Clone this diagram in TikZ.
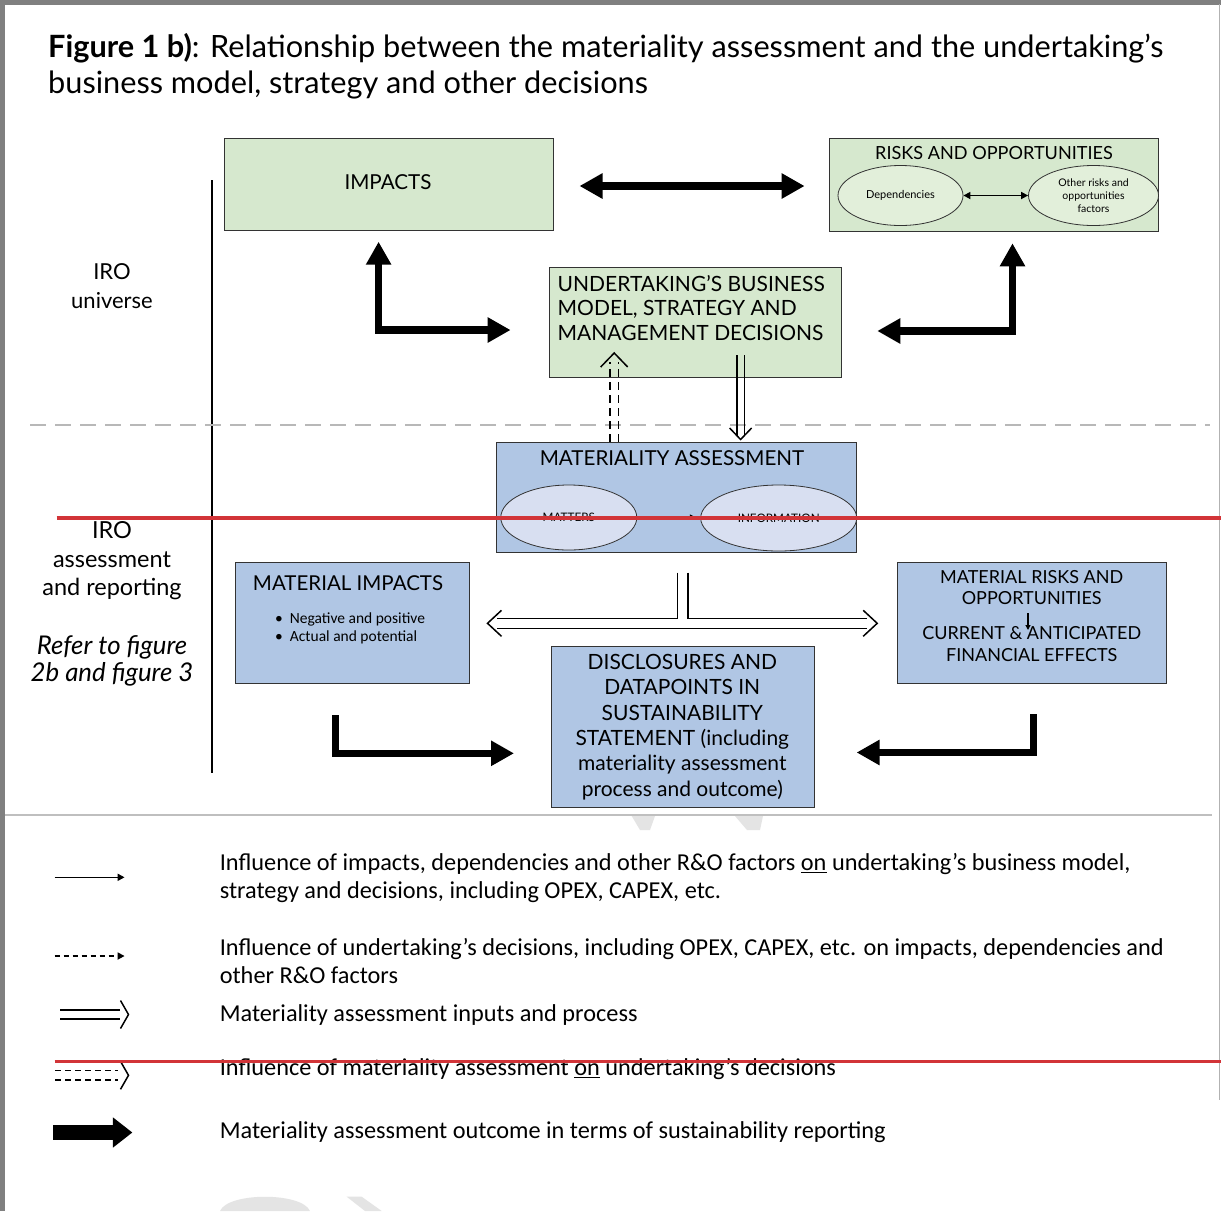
\documentclass[tikz,border=0pt]{standalone}
\usepackage{fontspec}
\setmainfont{Lato}
\newfontfamily\legfont{Carlito}
\usetikzlibrary{arrows.meta,calc,shapes.geometric}
\newcommand\fsz[2]{\fontsize{#1}{#2}\selectfont}
\definecolor{grn}{RGB}{214,232,206}
\definecolor{grnlt}{RGB}{226,239,218}
\definecolor{blu}{RGB}{176,198,228}
\definecolor{blult}{RGB}{216,223,241}
\definecolor{redl}{RGB}{210,52,56}
\definecolor{framegray}{RGB}{128,128,128}
\definecolor{wm}{RGB}{228,228,228}
\tikzset{
  bigtip/.tip={Triangle[length=23pt,width=24pt]},
  smalltip/.tip={Triangle[length=7pt,width=7pt]},
  box/.style={draw=black!80,line width=1pt,inner sep=0pt,anchor=north west},
  gbox/.style={box,fill=grn},
  bbox/.style={box,fill=blu},
  boxtxt/.style={inner sep=0pt,align=center,font=\fsz{20.6}{25}},
  blockarrow/.style={line width=7.5pt,line join=miter},
  dbl/.style={line width=1.3pt},
  dbldash/.style={line width=1.3pt,dash pattern=on 8pt off 5pt},
  chev/.style={line width=1.5pt,line join=miter},
  legtxt/.style={inner sep=0pt,anchor=west,align=left,font=\legfont\fsz{24.3}{28}},
  sidetxt/.style={inner sep=0pt,align=center,font=\fsz{23.5}{28.5}},
}
\begin{document}
\begin{tikzpicture}[x=1pt,y=-1pt]
\useasboundingbox (0,0) rectangle (1221,1211);
\fill[white] (0,0) rectangle (1221,1211);
% watermark fragments
\fill[wm] (631.7,816) -- (655,816) -- (650,830) -- (640,830) -- cycle;
\fill[wm] (735,816) -- (763,816) -- (760,830) -- (747,830) -- cycle;
\fill[wm] (220,1211) .. controls (228,1192) and (302,1192) .. (310,1211) -- cycle;
\fill[wm] (346.7,1196.7) -- (361.7,1196.7) -- (381.7,1211) -- (365,1211) -- cycle;
% frame
\fill[framegray] (0,0) rectangle (1221,4.5);
\fill[framegray] (0,0) rectangle (5,1211);
\draw[black!30,line width=1pt] (1219,4) -- (1219,1100);
\draw[black!25,line width=1.2pt] (5,815) -- (1212,815);
% title
\node[inner sep=0pt,anchor=base west,font=\fsz{30.7}{36}] (title1) at (48,57) {\textbf{Figure 1 b)}: Relationship between the materiality assessment and the undertaking’s};
\node[inner sep=0pt,anchor=base west,font=\fsz{30.7}{36}] (title2) at (48,93) {business model, strategy and other decisions};
% side labels
\draw[black,line width=2pt] (212,180) -- (212,773);
\draw[black!28,line width=1.5pt,dash pattern=on 16pt off 9pt] (30,425) -- (1210,425);
\node[sidetxt,font=\fsz{22}{29}] (iro1) at (112,286.5) {IRO\\universe};
\node[sidetxt] (iro2) at (112,561) {IRO\\assessment\\and reporting};
\node[sidetxt,font=\itshape\fsz{25.8}{27}] (refer) at (112,660.5) {Refer to figure\\2b and figure 3};
% top row
\node[gbox,minimum width=329pt,minimum height=91.7pt] (impacts) at (223.6,138.3) {};
\node[boxtxt] (impactstxt) at (388,182.5) {IMPACTS};
\node[gbox,minimum width=329pt,minimum height=92.7pt] (risks) at (829.4,138.3) {};
\node[boxtxt,font=\fsz{18.1}{20}] (riskstxt) at (994,153) {RISKS AND OPPORTUNITIES};
\node[draw=black!80,line width=0.8pt,fill=grnlt,ellipse,minimum width=125pt,minimum height=60pt,inner sep=0pt,font=\fsz{11}{13}] (dep) at (900.5,195.5) {Dependencies};
\node[draw=black!80,line width=0.8pt,fill=grnlt,ellipse,minimum width=130pt,minimum height=60pt,inner sep=0pt,align=center,font=\fsz{10.5}{13}] (oth) at (1093.5,195.5) {Other risks and\\opportunities\\factors};
\draw[line width=1.6pt,smalltip-smalltip] (dep.east) -- (oth.west);
\coordinate (ia) at (579.5,186);
\coordinate (ib) at (804.6,186);
\draw[blockarrow,bigtip-bigtip] (ia) -- (ib);
% undertaking box
\node[gbox,minimum width=292pt,minimum height=110pt] (und) at (548.8,266.7) {};
\node[inner sep=0pt,anchor=west,align=left,font=\fsz{21}{24.5}] (undtxt) at (557.5,308) {UNDERTAKING’S BUSINESS\\MODEL, STRATEGY AND\\MANAGEMENT DECISIONS};
% L arrows top
\coordinate (la1) at (378.6,241.7);
\coordinate (la2) at (378.6,330);
\coordinate (la3) at (510.6,330);
\draw[blockarrow,bigtip-bigtip] (la1) -- (la2) -- (la3);
\coordinate (ra1) at (1012.5,243.3);
\coordinate (ra2) at (1012.5,331);
\coordinate (ra3) at (877.3,331);
\draw[blockarrow,bigtip-bigtip] (ra1) -- (ra2) -- (ra3);
% materiality assessment
\node[bbox,minimum width=360pt,minimum height=110pt] (mat) at (495.7,441.7) {};
\node[boxtxt] (mattxt) at (672,458) {MATERIALITY ASSESSMENT};
\node[draw=black!80,line width=0.8pt,fill=blult,ellipse,minimum width=136pt,minimum height=65pt,inner sep=0pt,font=\fsz{11.7}{13}] (matters) at (568.8,517.5) {MATTERS};
\node[draw=black!80,line width=0.8pt,fill=blult,ellipse,minimum width=156pt,minimum height=66pt,inner sep=0pt,font=\fsz{11.7}{13}] (info) at (778.7,518) {INFORMATION};
\coordinate (mi) at (695,517);
\draw[line width=0.8pt,-{Triangle[length=5pt,width=5pt]}] (matters.east) -- (mi);
% dashed double arrow up (mat -> und)
\coordinate (du1) at (610,441.7);
\coordinate (du2) at (610,362);
\coordinate (du3) at (618.3,441.7);
\coordinate (du4) at (618.3,362);
\draw[dbldash] (du1) -- (du2);
\draw[dbldash] (du3) -- (du4);
\coordinate (dut) at (614.2,353);
\draw[chev] ($(dut)+(-13.5,14)$) -- (dut) -- ($(dut)+(13.5,14)$);
% double arrow down (und -> mat)
\coordinate (dd1) at (736.9,355);
\coordinate (dd2) at (736.9,436);
\coordinate (dd3) at (744.3,355);
\coordinate (dd4) at (744.3,436);
\draw[dbl] (dd1) -- (dd2);
\draw[dbl] (dd3) -- (dd4);
\coordinate (ddt) at (740.6,439.5);
\draw[chev] ($(ddt)+(-11,-11.5)$) -- (ddt) -- ($(ddt)+(11,-11.5)$);
% T-shaped double arrow
\coordinate (t1) at (677.4,572.7);
\coordinate (t2) at (687.9,572.7);
\coordinate (tl) at (497,618.3);
\coordinate (tr) at (867,618.3);
\coordinate (bl) at (497,628.3);
\coordinate (br) at (867,628.3);
\draw[dbl,line join=miter] (t1) |- (tl);
\draw[dbl,line join=miter] (t2) |- (tr);
\draw[dbl] (bl) -- (br);
\coordinate (tlt) at (487.5,623.3);
\coordinate (trt) at (877.2,623.3);
\draw[chev] ($(tlt)+(14,-13)$) -- (tlt) -- ($(tlt)+(14,13)$);
\draw[chev] ($(trt)+(-14,-13)$) -- (trt) -- ($(trt)+(-14,13)$);
% material impacts
\node[bbox,minimum width=233.3pt,minimum height=120.4pt] (mimp) at (235.3,562.3) {};
\node[boxtxt,font=\fsz{20.5}{25}] (mimptxt) at (348,583.5) {MATERIAL IMPACTS};
\node[inner sep=0pt,anchor=west,align=left,font=\legfont\fsz{15.5}{18}] (mimpb) at (275,628) {\textbullet\hspace{7pt}Negative and positive\\\textbullet\hspace{7pt}Actual and potential};
% material risks
\node[bbox,minimum width=269.3pt,minimum height=121pt] (mrisk) at (897,561.7) {};
\node[boxtxt,font=\fsz{18}{21.6}] (mrisk1) at (1031.7,587.5) {MATERIAL RISKS AND\\OPPORTUNITIES};
\node[boxtxt,font=\fsz{18}{22.3}] (mrisk2) at (1031.7,644) {CURRENT \& ANTICIPATED\\FINANCIAL EFFECTS};
\coordinate (mra) at (1028,613);
\coordinate (mrb) at (1028,630);
\draw[line width=1.2pt,-{Triangle[length=5pt,width=5pt]}] (mra) -- (mrb);
% disclosures
\node[bbox,minimum width=263pt,minimum height=161.5pt] (disc) at (550.8,645.7) {};
\node[boxtxt,font=\fsz{21}{25.3}] (disctxt) at (682.3,727) {DISCLOSURES AND\\DATAPOINTS IN\\SUSTAINABILITY\\STATEMENT (including\\materiality assessment\\process and outcome)};
% bottom L arrows
\coordinate (lb1) at (335.3,715);
\coordinate (lb2) at (335.3,753.3);
\coordinate (lb3) at (514,753.3);
\draw[blockarrow,-bigtip] (lb1) -- (lb2) -- (lb3);
\coordinate (rb1) at (1033.6,714.3);
\coordinate (rb2) at (1033.6,752.5);
\coordinate (rb3) at (856.6,752.5);
\draw[blockarrow,-bigtip] (rb1) -- (rb2) -- (rb3);
% legend
\coordinate (g1a) at (54.5,877.3);
\coordinate (g1b) at (124.6,877.3);
\draw[line width=1.6pt,-smalltip] (g1a) -- (g1b);
\node[legtxt] (g1t) at (219.6,877.8) {Influence of impacts, dependencies and other R\&O factors \underline{on} undertaking’s business model,\\strategy and decisions, including OPEX, CAPEX, etc.};
\coordinate (g2a) at (54.5,956);
\coordinate (g2b) at (124.6,956);
\draw[line width=1.6pt,dash pattern=on 5pt off 4pt,-smalltip] (g2a) -- (g2b);
\node[legtxt] (g2t) at (219.6,961.5) {Influence of undertaking’s decisions, including OPEX, CAPEX, etc. on impacts, dependencies and\\other R\&O factors};
\coordinate (g3a) at (60,1010);
\coordinate (g3b) at (120,1010);
\coordinate (g3c) at (60,1019);
\coordinate (g3d) at (120,1019);
\draw[dbl] (g3a) -- (g3b);
\draw[dbl] (g3c) -- (g3d);
\coordinate (g3t) at (128.5,1014.5);
\draw[chev] ($(g3t)+(-8,-14)$) -- (g3t) -- ($(g3t)+(-8,14)$);
\node[legtxt] (g3txt) at (219.6,1015.5) {Materiality assessment inputs and process};
\coordinate (g4a) at (55,1070.7);
\coordinate (g4b) at (118,1070.7);
\coordinate (g4c) at (55,1080);
\coordinate (g4d) at (118,1080);
\draw[dbldash,dash pattern=on 6pt off 4pt] (g4a) -- (g4b);
\draw[dbldash,dash pattern=on 6pt off 4pt] (g4c) -- (g4d);
\coordinate (g4t) at (128.5,1075.3);
\draw[chev] ($(g4t)+(-8,-14)$) -- (g4t) -- ($(g4t)+(-8,14)$);
\node[legtxt] (g4txt) at (219.6,1069) {Influence of materiality assessment \underline{on} undertaking’s decisions};
\coordinate (g5a) at (53,1132.5);
\coordinate (g5b) at (132.4,1132.5);
\draw[line width=15pt,-{Triangle[length=19.5pt,width=29pt]}] (g5a) -- (g5b);
\node[legtxt] (g5txt) at (219.6,1132.3) {Materiality assessment outcome in terms of sustainability reporting};
% red overlay lines
\coordinate (r1a) at (56.5,518);
\coordinate (r1b) at (1221,518);
\draw[redl,line width=3.5pt] (r1a) -- (r1b);
\coordinate (r2a) at (54.5,1061.7);
\coordinate (r2b) at (1221,1061.7);
\draw[redl,line width=3.5pt] (r2a) -- (r2b);
\end{tikzpicture}
\end{document}
